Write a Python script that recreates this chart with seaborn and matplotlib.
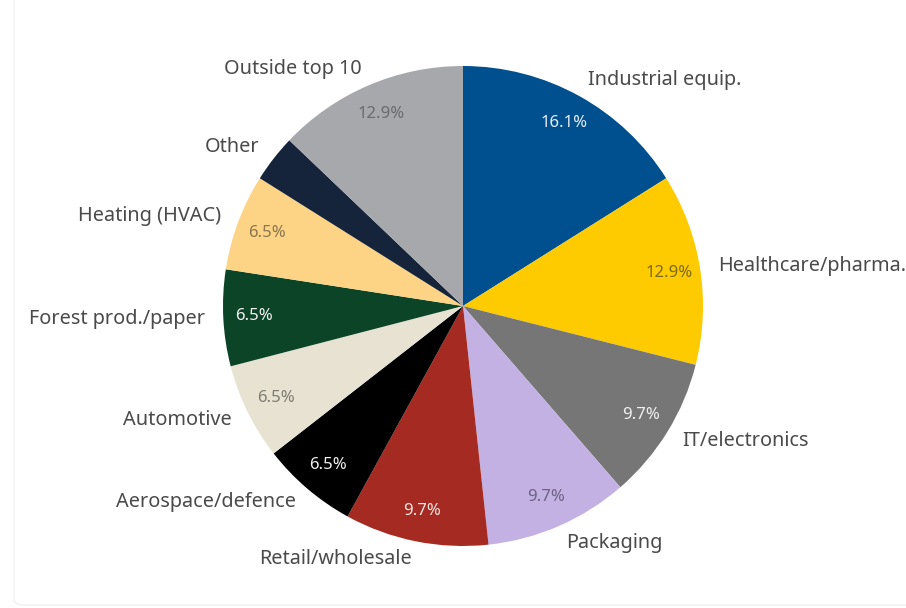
import matplotlib
matplotlib.use("Agg")
import matplotlib.pyplot as plt
from matplotlib.patches import FancyBboxPatch
import seaborn as sns

categories = ["Industrial equip.", "Healthcare/pharma.", "IT/electronics", "Packaging",
              "Retail/wholesale", "Aerospace/defence", "Automotive", "Forest prod./paper",
              "Heating (HVAC)", "Other", "Outside top 10"]
values = [16.1, 12.9, 9.7, 9.7, 9.7, 6.5, 6.5, 6.5, 6.5, 3.2, 12.9]
slice_colors = ["#00508f", "#fdcb00", "#767676", "#c2b1e2", "#a52b22", "#000000",
                "#e7e2d1", "#0c4428", "#fdd485", "#15243a", "#a7a8ac"]
pct_colors = ["#e9eef6", "#7d6a1e", "#f0f0f0", "#6c6283", "#f3e6e4", "#f2f2f2",
              "#7f7c72", "#f2f2f2", "#8a7550", "#ffffff", "#6a6b6f"]
pct_bold = [True, False, True, False, True, True, False, True, False, False, False]
pct_threshold = 5.0

sns.set_theme(style="white")
plt.rcParams['font.family'] = ['Noto Sans', 'DejaVu Sans']

fig = plt.figure(figsize=(9.06, 6.08), dpi=100)
fig.patch.set_facecolor("white")

# faint card border
card = FancyBboxPatch((14 / 906, 3 / 608), 1.2, 1.2, boxstyle="round,pad=0,rounding_size=0.01",
                      transform=fig.transFigure, facecolor="none", edgecolor="#ededed",
                      linewidth=0.8, zorder=-1)
fig.patches.append(card)

ax = fig.add_axes([163 / 906, 2 / 608, 600 / 906, 600 / 608])
ax.patch.set_alpha(0)
palette = sns.color_palette(slice_colors)

wedges, texts, autotexts = ax.pie(
    values, labels=categories, colors=palette, startangle=90, counterclock=False,
    autopct=lambda p: f"{p:.1f}%" if p >= pct_threshold else "",
    pctdistance=0.87, labeldistance=1.075,
    wedgeprops=dict(linewidth=0),
    textprops=dict(fontsize=14.3, color="#4a4a4a"),
)
for t, c, b in zip(autotexts, pct_colors, pct_bold):
    t.set_color(c)
    t.set_fontsize(12)
    t.set_fontweight("bold" if b else "normal")

ax.set_xlim(-1.25, 1.25)
ax.set_ylim(-1.25, 1.25)
ax.set_aspect("auto")
ax.axis("off")

fig.savefig("out.png", dpi=100, facecolor="white")
